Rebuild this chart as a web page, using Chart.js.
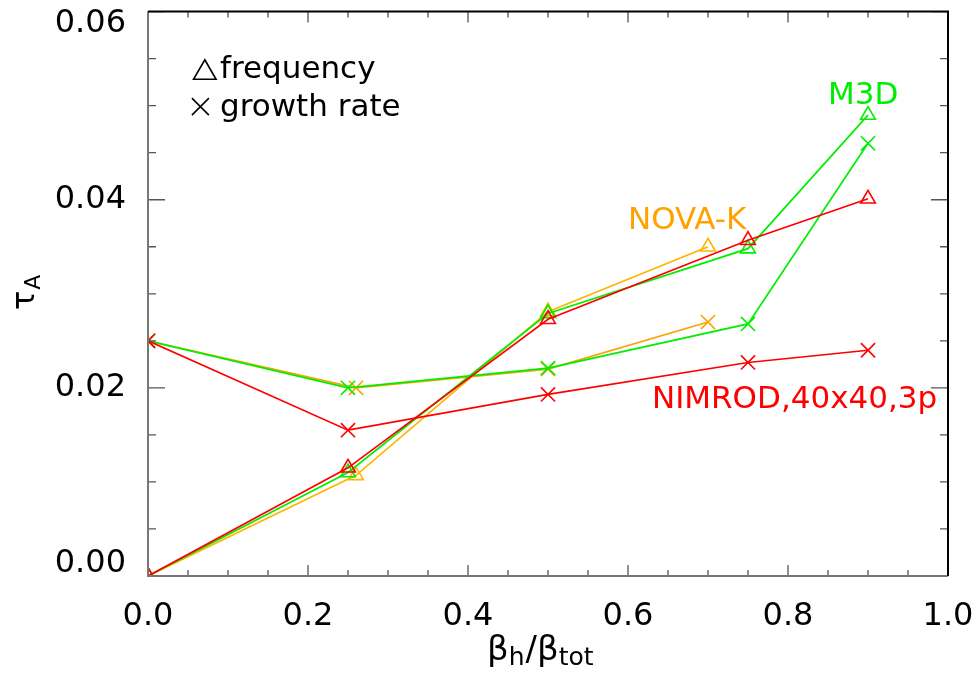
<!DOCTYPE html>
<html>
<head>
<meta charset="utf-8">
<script src="https://cdn.jsdelivr.net/npm/chart.js@4.4.0/dist/chart.umd.min.js"></script>
<style>
  html, body { margin: 0; padding: 0; background: #fff; }
  #wrap { width: 976px; height: 674px; }
</style>
</head>
<body>
<div id="wrap"><canvas id="grafico" width="976" height="674"></canvas></div>
<script>
// valores
const x_nimrod = [0, 0.25, 0.5, 0.75, 0.9]
const freq_nimrod = [0, 0.0115, 0.0273, 0.0357, 0.0401]
const cresc_nimrod = [0.025, 0.0155, 0.0193, 0.0227, 0.0240]

const x_m3d = [0, 0.25, 0.5, 0.75, 0.9]
const freq_m3d = [0, 0.0110, 0.0279, 0.0348, 0.0490]
const cresc_m3d = [0.025, 0.0200, 0.0221, 0.0268, 0.0460]

const x_nova = [0, 0.26, 0.5, 0.7]
const freq_nova = [0, 0.0107, 0.0281, 0.0350]
const cresc_nova = [0.025, 0.0200, 0.0220, 0.0270]

const x_ticks = [0, 0.2, 0.4, 0.6, 0.8, 1.0]
const y_ticks = [0, 0.02, 0.04, 0.06]

const VERMELHO = '#ff0000'
const VERDE = '#00ee00'
const LARANJA = '#ffa200'
const AMARELO = '#ffb400'
const FONTE = "'DejaVu Sans', sans-serif"

function pontos(xs, ys){
    return xs.map(function(x, i){ return {x: x, y: ys[i]} })
}

function serie(label, xs, ys, cor, estilo){
    return {
        label: label,
        data: pontos(xs, ys),
        borderColor: cor,
        backgroundColor: 'rgba(0,0,0,0)',
        pointBorderColor: cor,
        pointBackgroundColor: 'rgba(0,0,0,0)',
        pointStyle: estilo,
        pointRadius: estilo == 'triangle' ? 8.5 : 10,
        pointBorderWidth: 1.6,
        borderWidth: 1.7,
        tension: 0,
        fill: false
    }
}

// textos dentro do grafico (posicao em coordenadas de dados)
const anotacoes = [
    {texto: 'M3D', x: 0.85, y: 0.0502, cor: VERDE},
    {texto: 'NOVA-K', x: 0.60, y: 0.0369, cor: LARANJA},
    {texto: 'NIMROD,40x40,3p', x: 0.63, y: 0.0179, cor: VERMELHO}
]

const moldura = {
    id: 'moldura',
    afterDatasetsDraw(chart){
        const ctx = chart.ctx
        const a = chart.chartArea
        const sx = chart.scales.x
        const sy = chart.scales.y
        ctx.save()
        // ticks para dentro, nos quatro lados
        ctx.strokeStyle = '#555'
        ctx.lineWidth = 1.3
        ctx.beginPath()
        for(let i = 0; i <= 20; i++){
            const v = i * 0.05
            const px = sx.getPixelForValue(v)
            const maior = i % 4 == 0
            const lb = maior ? 11 : 6
            ctx.moveTo(px, a.bottom); ctx.lineTo(px, a.bottom - lb)
            ctx.moveTo(px, a.top); ctx.lineTo(px, a.top + lb)
        }
        for(let i = 0; i <= 12; i++){
            const v = i * 0.005
            const py = sy.getPixelForValue(v)
            const maior = i % 4 == 0
            const lb = maior ? 17 : 8
            ctx.moveTo(a.left, py); ctx.lineTo(a.left + lb, py)
            ctx.moveTo(a.right, py); ctx.lineTo(a.right - lb, py)
        }
        ctx.stroke()
        // bordas
        ctx.lineWidth = 2
        ctx.strokeStyle = '#777'
        ctx.beginPath()
        ctx.moveTo(a.left, a.top); ctx.lineTo(a.left, a.bottom); ctx.lineTo(a.right, a.bottom)
        ctx.stroke()
        ctx.strokeStyle = '#000'
        ctx.beginPath()
        ctx.moveTo(a.left, a.top); ctx.lineTo(a.right, a.top); ctx.lineTo(a.right, a.bottom)
        ctx.stroke()

        // anotacoes
        ctx.font = '31px ' + FONTE
        ctx.textAlign = 'left'
        ctx.textBaseline = 'alphabetic'
        anotacoes.forEach(function(t){
            ctx.fillStyle = t.cor
            ctx.fillText(t.texto, sx.getPixelForValue(t.x), sy.getPixelForValue(t.y))
        })

        // legenda de simbolos
        ctx.strokeStyle = '#000'
        ctx.fillStyle = 'rgba(0,0,0,0)'
        ctx.lineWidth = 1.6
        Chart.helpers.drawPoint(ctx, {pointStyle: 'triangle', radius: 13, borderWidth: 1.6}, sx.getPixelForValue(0.071), sy.getPixelForValue(0.0535))
        Chart.helpers.drawPoint(ctx, {pointStyle: 'crossRot', radius: 12, borderWidth: 1.6}, sx.getPixelForValue(0.0655), sy.getPixelForValue(0.0499))
        ctx.fillStyle = '#000'
        ctx.fillText('frequency', sx.getPixelForValue(0.09), sy.getPixelForValue(0.0529))
        ctx.fillText('growth rate', sx.getPixelForValue(0.09), sy.getPixelForValue(0.0489))

        // titulos dos eixos com subscrito
        ctx.font = '34px ' + FONTE
        let bx = 487
        const base = 660
        ctx.fillText('\u03b2', bx, base); bx += ctx.measureText('\u03b2').width
        ctx.font = '25px ' + FONTE
        ctx.fillText('h', bx, base + 5); bx += ctx.measureText('h').width + 1
        ctx.font = '34px ' + FONTE
        ctx.fillText('/', bx, base); bx += ctx.measureText('/').width
        ctx.fillText('\u03b2', bx, base); bx += ctx.measureText('\u03b2').width
        ctx.font = '25px ' + FONTE
        ctx.fillText('tot', bx, base + 5)

        ctx.translate(34, 310)
        ctx.rotate(-Math.PI / 2)
        ctx.font = '32px ' + FONTE
        ctx.fillText('\u03c4', 0, 0)
        const tw = ctx.measureText('\u03c4').width
        ctx.font = '22px ' + FONTE
        ctx.fillText('A', tw + 1, 6)
        ctx.restore()
    }
}

const ctx = document.getElementById('grafico').getContext('2d')
const grafico = new Chart(ctx, {
    type: 'line',
    data: {
        datasets: [
            serie('NIMROD frequency', x_nimrod, freq_nimrod, VERMELHO, 'triangle'),
            serie('NIMROD growth rate', x_nimrod, cresc_nimrod, VERMELHO, 'crossRot'),
            serie('M3D frequency', x_m3d, freq_m3d, VERDE, 'triangle'),
            serie('M3D growth rate', x_m3d, cresc_m3d, VERDE, 'crossRot'),
            serie('NOVA-K frequency', x_nova, freq_nova, AMARELO, 'triangle'),
            serie('NOVA-K growth rate', x_nova, cresc_nova, LARANJA, 'crossRot')
        ]
    },
    options: {
        responsive: false,
        animation: false,
        layout: { padding: { top: 8, right: 28, left: 0, bottom: 0 } },
        plugins: {
            legend: { display: false },
            tooltip: { enabled: false }
        },
        scales: {
            x: {
                type: 'linear',
                min: 0,
                max: 1,
                afterBuildTicks: function(s){ s.ticks = x_ticks.map(function(v){ return {value: v} }) },
                afterFit: function(s){
                    s.height = 98
                    s.paddingLeft = 0
                    s.paddingRight = 0
                },
                grid: { display: false },
                border: { display: false },
                ticks: {
                    padding: 13,
                    color: '#000',
                    font: { family: FONTE, size: 32 },
                    maxRotation: 0,
                    callback: function(v){ return Number(v).toFixed(1) }
                }
            },
            y: {
                type: 'linear',
                min: 0,
                max: 0.06,
                afterBuildTicks: function(s){ s.ticks = y_ticks.map(function(v){ return {value: v} }) },
                afterFit: function(s){
                    s.width = 148
                    s.paddingTop = 0
                    s.paddingBottom = 0
                },
                grid: { display: false },
                border: { display: false },
                ticks: {
                    padding: 14,
                    color: '#000',
                    // o rotulo do topo desce e o da base sobe, como no original
                    font: function(c){
                        const ult = y_ticks.length - 1
                        const lh = (c.index == 0 || c.index == ult) ? '24px' : 1.2
                        return { family: FONTE, size: 32, lineHeight: lh }
                    },
                    callback: function(v, i){
                        const txt = Number(v).toFixed(2)
                        if(i == 0) return [txt, '']
                        if(i == y_ticks.length - 1) return ['', txt]
                        return txt
                    }
                }
            }
        }
    },
    plugins: [moldura]
})
</script>
</body>
</html>
